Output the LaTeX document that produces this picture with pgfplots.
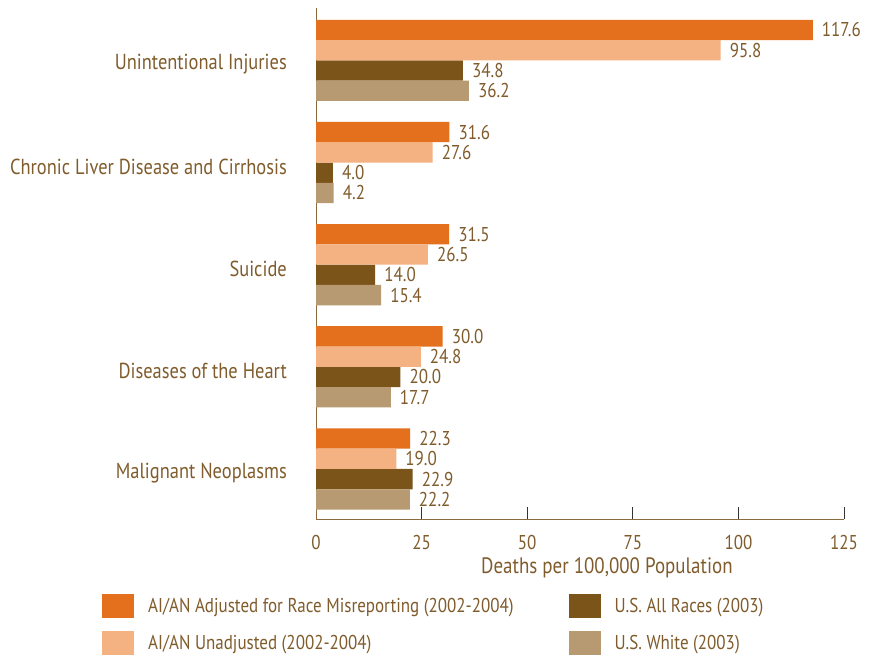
\documentclass[border=0pt]{standalone}
\usepackage{fontspec}
\setmainfont{PT Sans}[FakeStretch=0.85]
\usepackage{pgfplots}
\pgfplotsset{compat=1.18}
\definecolor{cA}{HTML}{E4701E}
\definecolor{cB}{HTML}{F4B283}
\definecolor{cC}{HTML}{7B5419}
\definecolor{cD}{HTML}{B89A72}
\definecolor{txt}{HTML}{805C2C}
\definecolor{axc}{HTML}{8B6B3E}
\pgfkeys{/pgf/number format/assume math mode=true}
\newcommand{\ff}{\fontsize{20}{23}\selectfont}
\newcommand{\fl}{\fontsize{21.7}{25}\selectfont}
\newcommand{\fx}{\fontsize{22.3}{25}\selectfont}
\begin{document}
\begin{tikzpicture}[x=1pt,y=1pt]
\useasboundingbox (0,0) rectangle (869,656);
\fill[white] (0,0) rectangle (869,656);
\begin{axis}[
  at={(316pt,137pt)}, anchor=south west,
  scale only axis, width=528pt, height=511pt,
  xbar, bar width=20.3pt,
  xmin=0, xmax=125, ymin=-0.49, ymax=4.513,
  axis x line=bottom, axis y line=left,
  axis line style={-, draw=axc, line width=1pt},
  xtick={0,25,50,75,100,125},
  tick align=inside,
  x tick style={draw=black!80, line width=0.8pt},
  major tick length=12pt,
  ytick={0,1,2,3,4},
  yticklabels={Malignant Neoplasms,Diseases of the Heart,Suicide,Chronic Liver Disease and Cirrhosis,Unintentional Injuries},
  y tick style={draw=none},
  yticklabel style={font=\fl, text=txt, inner sep=0pt, xshift=-29pt, yshift=-4pt},
  xticklabel style={font=\ff, text=txt, inner sep=0pt, yshift=-16pt},
  xlabel={Deaths per 100,000 Population},
  xlabel style={at={(axis description cs:0.551,0)}, anchor=north, font=\fx, text=txt, inner sep=0pt, yshift=-38.5pt},
  nodes near coords={\pgfmathprintnumber[fixed,fixed zerofill,precision=1]{\pgfplotspointmeta}},
  nodes near coords style={font=\ff, text=txt, inner sep=0pt, xshift=9pt, anchor=west},
  point meta=explicit symbolic,
  legend columns=2,
  legend image code/.code={\fill[#1] (0pt,-12pt) rectangle (32pt,12pt);},
  legend style={draw=none, fill=none, at={(axis description cs:-0.4053,-0.1468)}, anchor=north west,
    inner sep=0pt, row sep=13pt, column sep=14pt, font=\ff, text=txt,
    nodes={inner sep=0pt},
    /tikz/every even column/.append style={column sep=55pt}},
  legend cell align=left,
]
\addplot[draw=none, fill=cA, bar shift=30.45pt] coordinates {(117.6,4)[117.6] (31.6,3)[31.6] (31.5,2)[31.5] (30.0,1)[30.0] (22.3,0)[22.3]};
\addplot[draw=none, fill=cC, bar shift=-10.15pt] coordinates {(34.8,4)[34.8] (4.0,3)[4.0] (14.0,2)[14.0] (20.0,1)[20.0] (22.9,0)[22.9]};
\addplot[draw=none, fill=cB, bar shift=10.15pt] coordinates {(95.8,4)[95.8] (27.6,3)[27.6] (26.5,2)[26.5] (24.8,1)[24.8] (19.0,0)[19.0]};
\addplot[draw=none, fill=cD, bar shift=-30.45pt] coordinates {(36.2,4)[36.2] (4.2,3)[4.2] (15.4,2)[15.4] (17.7,1)[17.7] (22.2,0)[22.2]};
\legend{AI/AN Adjusted for Race Misreporting (2002-2004), U.S. All Races (2003), AI/AN Unadjusted (2002-2004), U.S. White (2003)}
\end{axis}
\end{tikzpicture}
\end{document}
